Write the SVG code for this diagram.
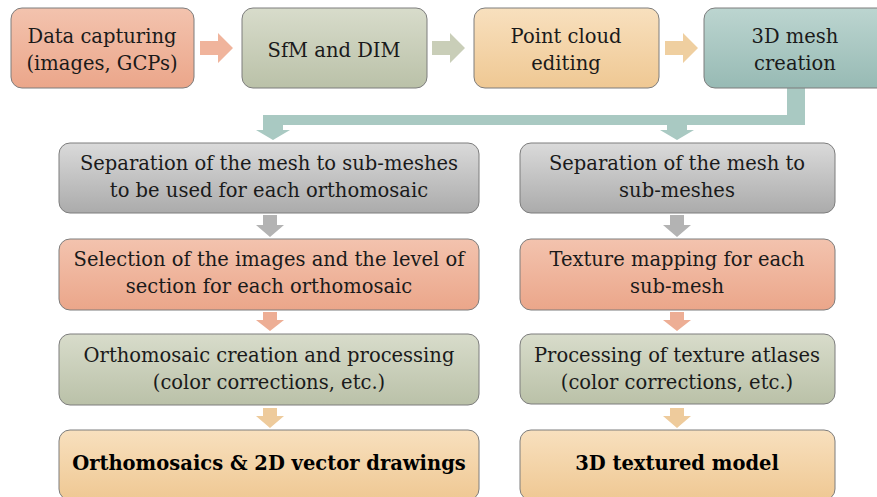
<svg xmlns="http://www.w3.org/2000/svg" width="877" height="497" viewBox="0 0 877 497">
<defs>
<linearGradient id="gS" x1="0" y1="0" x2="0" y2="1"><stop offset="0" stop-color="#F3C3AE"/><stop offset="1" stop-color="#EBA68A"/></linearGradient>
<linearGradient id="gG" x1="0" y1="0" x2="0" y2="1"><stop offset="0" stop-color="#D8DCCB"/><stop offset="1" stop-color="#BAC1A8"/></linearGradient>
<linearGradient id="gT" x1="0" y1="0" x2="0" y2="1"><stop offset="0" stop-color="#F8E0BE"/><stop offset="1" stop-color="#EFC893"/></linearGradient>
<linearGradient id="gB" x1="0" y1="0" x2="0" y2="1"><stop offset="0" stop-color="#BCD5D0"/><stop offset="1" stop-color="#97BAB4"/></linearGradient>
<linearGradient id="gY" x1="0" y1="0" x2="0" y2="1"><stop offset="0" stop-color="#DADADA"/><stop offset="1" stop-color="#ABABAB"/></linearGradient>
</defs>
<style>
.box{stroke:#7d7d7d;stroke-width:1}
.t{font-family:"DejaVu Serif","Liberation Serif",serif;font-size:19.5px;fill:#1a1a1a;text-anchor:middle}
.b{font-weight:bold;font-size:19.5px;fill:#000}
</style>
<rect width="877" height="497" fill="#ffffff"/>
<g id="connectors">
<path d="M200,41 H218 V33 L233,48 L218,63 V55 H200 Z" fill="#F0B49C"/>
<path d="M432,41 H450 V33 L465,48 L450,63 V55 H432 Z" fill="#C9CEB8"/>
<path d="M665,41 H683 V33 L698,48 L683,63 V55 H665 Z" fill="#EFCFA0"/>
<path d="M787,88 H805 V125 H283 V128 H263 V115 H787 Z" fill="#A9C9C2"/>
<path d="M263,125 H283 V130 H290 L273,140 L256,130 H263 Z" fill="#A9C9C2"/>
<path d="M667,125 H687 V130 H694 L677,140 L660,130 H667 Z" fill="#A9C9C2"/>
<path d="M263,215 H277 V225 H284 L270,237 L256,225 H263 Z" fill="#B3B3B3"/>
<path d="M670,215 H684 V225 H691 L677,237 L663,225 H670 Z" fill="#B3B3B3"/>
<path d="M263,312 H277 V320 H284 L270,331 L256,320 H263 Z" fill="#EDAE95"/>
<path d="M670,312 H684 V320 H691 L677,331 L663,320 H670 Z" fill="#EDAE95"/>
<path d="M263,408 H277 V416 H284 L270,428 L256,416 H263 Z" fill="#EECB9C"/>
<path d="M670,408 H684 V416 H691 L677,428 L663,416 H670 Z" fill="#EECB9C"/>
</g>
<g id="n1"><rect class="box" x="11" y="8" width="183" height="80" rx="11" fill="url(#gS)"/><text class="t" x="102" y="43">Data capturing</text><text class="t" x="102" y="70">(images, GCPs)</text></g>
<g id="n2"><rect class="box" x="242" y="8" width="185" height="80" rx="11" fill="url(#gG)"/><text class="t" x="334" y="57">SfM and DIM</text></g>
<g id="n3"><rect class="box" x="474" y="8" width="185" height="80" rx="11" fill="url(#gT)"/><text class="t" x="566" y="43">Point cloud</text><text class="t" x="566" y="70">editing</text></g>
<g id="n4"><rect class="box" x="704" y="8" width="185" height="80" rx="11" fill="url(#gB)"/><text class="t" x="795" y="43">3D mesh</text><text class="t" x="795" y="70">creation</text></g>
<g id="l1"><rect class="box" x="59" y="143" width="420" height="70" rx="11" fill="url(#gY)"/><text class="t" x="269" y="170">Separation of the mesh to sub-meshes</text><text class="t" x="269" y="197">to be used for each orthomosaic</text></g>
<g id="l2"><rect class="box" x="59" y="239" width="420" height="71" rx="11" fill="url(#gS)"/><text class="t" x="269" y="266">Selection of the images and the level of</text><text class="t" x="269" y="293">section for each orthomosaic</text></g>
<g id="l3"><rect class="box" x="59" y="334" width="420" height="71" rx="11" fill="url(#gG)"/><text class="t" x="269" y="362">Orthomosaic creation and processing</text><text class="t" x="269" y="389">(color corrections, etc.)</text></g>
<g id="l4"><rect class="box" x="59" y="430" width="420" height="70" rx="11" fill="url(#gT)"/><text class="t b" x="269" y="470">Orthomosaics &amp; 2D vector drawings</text></g>
<g id="r1"><rect class="box" x="520" y="143" width="315" height="70" rx="11" fill="url(#gY)"/><text class="t" x="677" y="170">Separation of the mesh to</text><text class="t" x="677" y="197">sub-meshes</text></g>
<g id="r2"><rect class="box" x="520" y="239" width="315" height="71" rx="11" fill="url(#gS)"/><text class="t" x="677" y="266">Texture mapping for each</text><text class="t" x="677" y="293">sub-mesh</text></g>
<g id="r3"><rect class="box" x="520" y="334" width="315" height="70" rx="11" fill="url(#gG)"/><text class="t" x="677" y="362">Processing of texture atlases</text><text class="t" x="677" y="389">(color corrections, etc.)</text></g>
<g id="r4"><rect class="box" x="520" y="430" width="315" height="70" rx="11" fill="url(#gT)"/><text class="t b" x="677" y="470">3D textured model</text></g>
</svg>
